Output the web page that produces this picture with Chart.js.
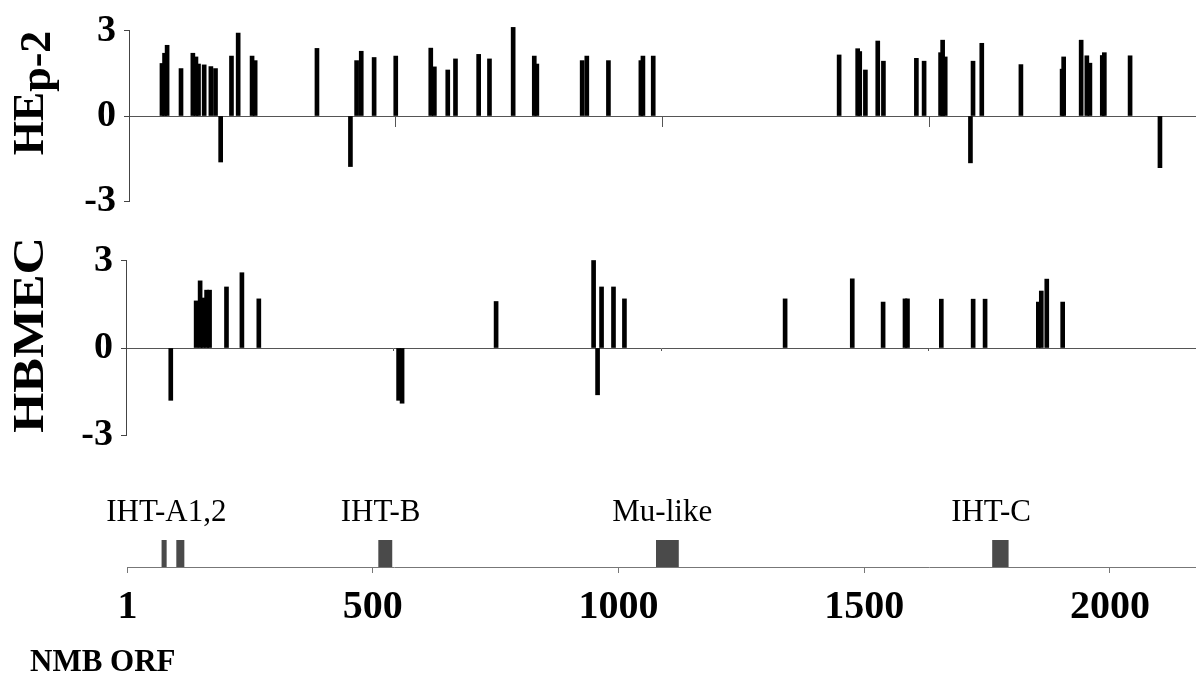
<!DOCTYPE html>
<html>
<head>
<meta charset="utf-8">
<title>NMB ORF – HEp-2 / HBMEC</title>
<script src="https://cdn.jsdelivr.net/npm/chart.js@4.4.1/dist/chart.umd.min.js"></script>
<style>
  html, body { margin: 0; padding: 0; background: #fff; }
  body { width: 1196px; height: 687px; position: relative; overflow: hidden;
         font-family: 'Liberation Serif', 'DejaVu Serif', serif; color: #000; }
  .panel { position: absolute; left: 0; width: 1196px; }
  .ylab { position: absolute; font-weight: bold; font-size: 44px; line-height: 44px; white-space: nowrap; }
  .ylab .sub { position: relative; top: 0.16em; }
  #orfTitle { position: absolute; left: 30px; top: 645px; font-weight: bold; font-size: 31px; line-height: 31px; white-space: nowrap; }
</style>
</head>
<body>
<div class="panel" style="top:0; height:232px;"><canvas id="hepChart"></canvas></div>
<div class="panel" style="top:230px; height:236px;"><canvas id="hbmecChart"></canvas></div>
<div class="panel" style="top:466px; height:221px;"><canvas id="mapChart"></canvas></div>

<div class="ylab" style="left:29px; top:93px; transform: translate(-50%,-50%) rotate(-90deg);">HE<span class="sub">p-2</span></div>
<div class="ylab" style="left:29px; top:335px; transform: translate(-50%,-50%) rotate(-90deg) scaleX(1.18);">HBMEC</div>
<div id="orfTitle">NMB ORF</div>

<script>
// HEp-2 panel: ORF position and log ratio
const hepPos = [64, 69, 74, 101, 124, 130, 135, 146, 159, 168,
                178, 199, 212, 239, 245, 365, 430, 442, 451, 476,
                518, 586, 593, 619, 634, 679, 700, 746, 787, 792,
                880, 889, 931, 994, 998, 1018, 1379, 1415, 1419, 1430,
                1454, 1465, 1529, 1544, 1576, 1580, 1585, 1634, 1639, 1656,
                1732, 1812, 1815, 1849, 1860, 1866, 1890, 1894, 1944, 2002];
const hepVal = [1.85, 2.21, 2.49, 1.67, 2.21, 2.08, 1.83, 1.80, 1.74, 1.67,
                -1.62, 2.11, 2.92, 2.11, 1.95, 2.38, -1.78, 1.95, 2.28, 2.06,
                2.11, 2.39, 1.73, 1.62, 2.01, 2.17, 2.01, 3.12, 2.11, 1.83,
                1.95, 2.11, 1.95, 1.95, 2.11, 2.11, 2.15, 2.37, 2.27, 1.62,
                2.64, 1.93, 2.03, 1.93, 2.23, 2.67, 2.08, -1.65, 1.93, 2.56,
                1.81, 1.65, 2.08, 2.67, 2.12, 1.86, 2.13, 2.23, 2.12, -1.82];

// HBMEC panel
const hbmecPos = [90, 141, 149, 155, 162, 168, 202, 233, 267, 548,
                  555, 744, 940, 948, 956, 980, 1002, 1325, 1460, 1522,
                  1566, 1571, 1639, 1703, 1727, 1834, 1840, 1851, 1883];
const hbmecVal = [-1.80, 1.62, 2.31, 1.72, 1.99, 1.99, 2.10, 2.59, 1.69, -1.80,
                  -1.90, 1.60, 3.01, -1.61, 2.10, 2.10, 1.69, 1.69, 2.38, 1.58,
                  1.69, 1.69, 1.68, 1.68, 1.68, 1.58, 1.96, 2.37, 1.58];

// gene map under the panels
const geneStart = [71, 101, 512, 1077, 1761];
const geneEnd = [80, 116, 539, 1122, 1793];
const geneLabels = ['IHT-A1,2', 'IHT-B', 'Mu-like', 'IHT-C'];
const geneLabelAt = [80, 516, 1089, 1758];

const yTicks = [-3, 0, 3];
const orfTicks = [1, 500, 1000, 1500, 2000];

Chart.defaults.font.family = "'Liberation Serif', 'DejaVu Serif', serif";
Chart.defaults.color = '#000';
Chart.defaults.animation = false;
Chart.defaults.plugins.legend.display = false;
Chart.defaults.plugins.tooltip.enabled = false;

function expressionPanel(id, pos, val, xMax, axisWidth, pad, tickLen) {
    return new Chart(document.getElementById(id), {
        type: 'bar',
        data: {
            datasets: [{
                data: pos.map((p, i) => ({ x: p, y: val[i] })),
                backgroundColor: '#000',
                borderWidth: 0,
                barThickness: 4,
                clip: false
            }]
        },
        options: {
            responsive: true,
            maintainAspectRatio: false,
            layout: { padding: pad },
            scales: {
                x: {
                    type: 'linear',
                    min: 0,
                    max: xMax,
                    offset: false,
                    position: { y: 0 },
                    grid: { offset: false, drawOnChartArea: false, tickLength: tickLen, tickColor: '#555' },
                    border: { color: '#555' },
                    ticks: { display: false, stepSize: 500 }
                },
                y: {
                    min: -3,
                    max: 3,
                    afterBuildTicks: s => { s.ticks = yTicks.map(v => ({ value: v })); },
                    afterFit: s => { s.width = axisWidth; },
                    grid: { drawOnChartArea: false, tickLength: 5, tickColor: '#444' },
                    border: { color: '#444' },
                    ticks: {
                        color: '#000',
                        padding: 8,
                        font: { size: 38, weight: 'bold' },
                        callback: v => String(v)
                    }
                }
            }
        }
    });
}

expressionPanel('hepChart', hepPos, hepVal, 2072, 129, { top: 20, bottom: 16, left: 0, right: 0 }, 10);
expressionPanel('hbmecChart', hbmecPos, hbmecVal, 2151, 126, { top: 18, bottom: 16, left: 0, right: 0 }, 2);

const geneLabelPlugin = {
    id: 'geneLabels',
    afterDatasetsDraw(chart) {
        const { ctx, chartArea, scales } = chart;
        ctx.save();
        ctx.font = "31px 'Liberation Serif', serif";
        ctx.fillStyle = '#000';
        ctx.textAlign = 'center';
        ctx.textBaseline = 'alphabetic';
        geneLabels.forEach((t, i) => {
            ctx.fillText(t, scales.x.getPixelForValue(geneLabelAt[i]), chartArea.top - 19);
        });
        ctx.restore();
    }
};

new Chart(document.getElementById('mapChart'), {
    type: 'bar',
    data: {
        labels: ['map'],
        datasets: [{
            data: geneStart.map((s, i) => ({ y: 'map', x: [s, geneEnd[i]] })),
            backgroundColor: '#4a4a4a',
            borderWidth: 0,
            categoryPercentage: 1,
            barPercentage: 1
        }]
    },
    options: {
        indexAxis: 'y',
        responsive: true,
        maintainAspectRatio: false,
        layout: { padding: { top: 74, left: 127, right: 0, bottom: 0 } },
        scales: {
            y: { display: false },
            x: {
                type: 'linear',
                min: 0,
                max: 2175,
                position: 'bottom',
                afterBuildTicks: s => { s.ticks = orfTicks.map(v => ({ value: v })); },
                afterFit: s => { s.height = 120; },
                grid: { drawOnChartArea: false, tickLength: 6, tickColor: '#777' },
                border: { color: '#777' },
                ticks: {
                    color: '#000',
                    padding: 11,
                    autoSkip: false,
                    maxRotation: 0,
                    font: { size: 40, weight: 'bold' },
                    callback: v => String(v)
                }
            }
        }
    },
    plugins: [geneLabelPlugin]
});
</script>
</body>
</html>
